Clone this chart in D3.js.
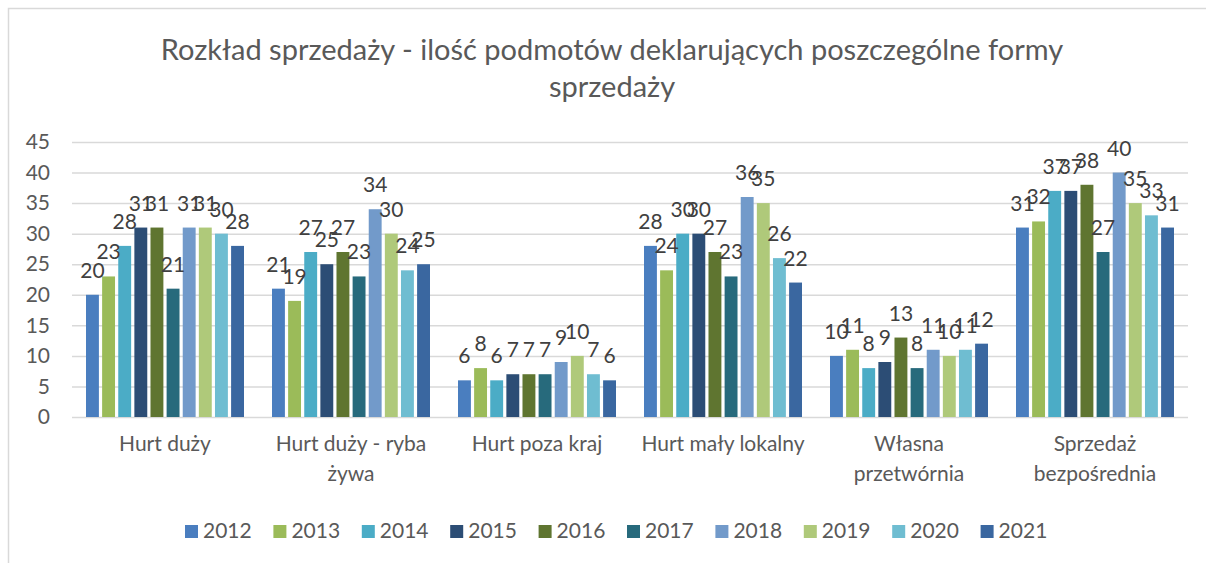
<!DOCTYPE html>
<html>
<head>
<meta charset="utf-8">
<script src="https://cdn.jsdelivr.net/npm/d3@7"></script>
<style>
  body { margin: 0; background: #fff; }
  svg text { font-family: Lato, "Open Sans", sans-serif; }
</style>
</head>
<body>
<svg id="chart"></svg>
<script>
// categories (line breaks as in the original axis labels)
const categories = [
  'Hurt duży',
  'Hurt duży - ryba\nżywa',
  'Hurt poza kraj',
  'Hurt mały lokalny',
  'Własna\nprzetwórnia',
  'Sprzedaż\nbezpośrednia'
];
const years = ['2012', '2013', '2014', '2015', '2016', '2017', '2018', '2019', '2020', '2021'];

// one row per category, one value per year
const hurtDuzy = [20, 23, 28, 31, 31, 21, 31, 31, 30, 28];
const hurtRyba = [21, 19, 27, 25, 27, 23, 34, 30, 24, 25];
const hurtPozaKraj = [6, 8, 6, 7, 7, 7, 9, 10, 7, 6];
const hurtMaly = [28, 24, 30, 30, 27, 23, 36, 35, 26, 22];
const przetwornia = [10, 11, 8, 9, 13, 8, 11, 10, 11, 12];
const bezposrednia = [31, 32, 37, 37, 38, 27, 40, 35, 33, 31];
const yTicks = [0, 5, 10, 15, 20, 25, 30, 35, 40, 45];

const rows = [hurtDuzy, hurtRyba, hurtPozaKraj, hurtMaly, przetwornia, bezposrednia];
const colors = ['#4a7ebf', '#9bbb59', '#4bacc6', '#2c4d75', '#5f7530',
                '#276a7c', '#729aca', '#afc97a', '#6fbdd1', '#3a67a0'];

const width = 1206, height = 563;
const margin = { top: 142, right: 18, bottom: 146, left: 72 };

const svg = d3.select('#chart')
  .attr('width', width)
  .attr('height', height);

// chart frame
svg.append('rect')
  .attr('x', 8.5).attr('y', 8.5)
  .attr('width', 1220).attr('height', 600)
  .attr('fill', '#fff')
  .attr('stroke', '#d9d9d9')
  .attr('stroke-width', 1.5);

// title
const title = svg.append('text')
  .attr('text-anchor', 'middle')
  .attr('fill', '#595959')
  .style('font-size', '29px');
title.append('tspan').attr('x', 612).attr('y', 60)
  .text('Rozkład sprzedaży - ilość podmotów deklarujących poszczególne formy');
title.append('tspan').attr('x', 612).attr('y', 97)
  .text('sprzedaży');

const x0 = d3.scaleBand()
  .domain(categories)
  .range([margin.left, width - margin.right]);

const x1 = d3.scaleBand()
  .domain(years)
  .range([14, x0.bandwidth() - 14])
  .paddingInner(0.2);

const y = d3.scaleLinear()
  .domain([0, 45])
  .range([height - margin.bottom, margin.top]);

const color = d3.scaleOrdinal().domain(years).range(colors);

// y axis with gridlines
const yAxis = d3.axisLeft(y)
  .tickValues(yTicks)
  .tickSize(-(width - margin.left - margin.right))
  .tickPadding(22);

svg.append('g')
  .attr('class', 'axis y-axis')
  .attr('transform', `translate(${margin.left},0)`)
  .call(yAxis)
  .call(g => g.select('.domain').remove())
  .call(g => g.selectAll('line').attr('stroke', '#d9d9d9').attr('stroke-width', 1.5))
  .call(g => g.selectAll('text')
    .attr('fill', '#595959')
    .style('font-size', '21px')
    .style('font-family', 'Lato, sans-serif'));

// bars
const groups = svg.append('g').selectAll('g')
  .data(categories.map((c, i) => ({ cat: c, values: rows[i] })))
  .join('g')
  .attr('transform', d => `translate(${x0(d.cat)},0)`);

groups.selectAll('rect')
  .data(d => years.map((yr, j) => ({ year: yr, value: d.values[j] })))
  .join('rect')
  .attr('x', d => x1(d.year))
  .attr('y', d => y(d.value))
  .attr('width', x1.bandwidth())
  .attr('height', d => y(0) - y(d.value))
  .attr('fill', d => color(d.year));

// value labels
groups.selectAll('text.value')
  .data(d => years.map((yr, j) => ({ year: yr, value: d.values[j] })))
  .join('text')
  .attr('class', 'value')
  .attr('x', d => x1(d.year) + x1.bandwidth() / 2)
  .attr('y', d => y(d.value) - 17)
  .attr('text-anchor', 'middle')
  .attr('fill', '#404040')
  .style('font-size', '21px')
  .text(d => d.value);

// category labels
const catLabels = svg.append('g').selectAll('text')
  .data(categories)
  .join('text')
  .attr('text-anchor', 'middle')
  .attr('fill', '#595959')
  .style('font-size', '21px');

catLabels.selectAll('tspan')
  .data(d => d.split('\n').map(line => ({ line, cat: d })))
  .join('tspan')
  .attr('x', d => x0(d.cat) + x0.bandwidth() / 2)
  .attr('y', (d, i) => y(0) + 34 + i * 30)
  .text(d => d.line);

// legend
const legend = svg.append('g')
  .attr('transform', 'translate(185,0)');

const items = legend.selectAll('g')
  .data(years)
  .join('g')
  .attr('transform', (d, i) => `translate(${i * 88.4},0)`);

items.append('rect')
  .attr('x', 0).attr('y', 525)
  .attr('width', 13).attr('height', 13)
  .attr('fill', d => color(d));

items.append('text')
  .attr('x', 18).attr('y', 538)
  .attr('fill', '#595959')
  .style('font-size', '21px')
  .text(d => d);
</script>
</body>
</html>
